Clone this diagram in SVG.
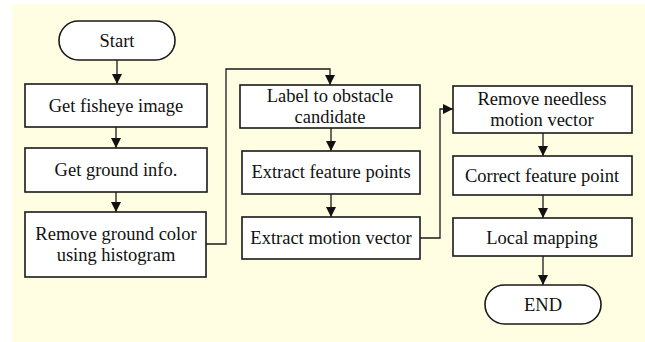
<svg xmlns="http://www.w3.org/2000/svg" width="645" height="342" viewBox="0 0 645 342">
<style>
.n{fill:#fff;stroke:#1a1a1a;stroke-width:1.6}
.t{font-family:'Liberation Serif','DejaVu Serif',serif;font-size:18.5px;fill:#111;text-anchor:middle}
.c{fill:none;stroke:#1a1a1a;stroke-width:1.3}
</style>
<defs>
<marker id="ah" viewBox="0 0 10 10" refX="10" refY="5" markerWidth="10" markerHeight="10" markerUnits="userSpaceOnUse" orient="auto">
<path d="M0,0 L10,5 L0,10 z" fill="#111"/>
</marker>
</defs>
<rect x="12" y="4" width="633" height="338" fill="#FFFEE3"/>
<g id="connectors">
<path class="c" d="M117,60 V84" marker-end="url(#ah)"/>
<path class="c" d="M116,127 V148" marker-end="url(#ah)"/>
<path class="c" d="M116,192 V212" marker-end="url(#ah)"/>
<path class="c" d="M206,244 H226 V69 H330 V85" marker-end="url(#ah)"/>
<path class="c" d="M331,128 V151" marker-end="url(#ah)"/>
<path class="c" d="M331,194 V217" marker-end="url(#ah)"/>
<path class="c" d="M420,238 H440 V109 H453" marker-end="url(#ah)"/>
<path class="c" d="M543,133 V156" marker-end="url(#ah)"/>
<path class="c" d="M543,195 V218" marker-end="url(#ah)"/>
<path class="c" d="M543,256 V285" marker-end="url(#ah)"/>
</g>
<g id="start"><rect class="n" x="59" y="21" width="116" height="39" rx="19.5"/><text class="t" x="117" y="47">Start</text></g>
<g id="get-fisheye"><rect class="n" x="25" y="84" width="182" height="43"/><text class="t" x="116" y="112">Get fisheye image</text></g>
<g id="get-ground"><rect class="n" x="25" y="148" width="182" height="44"/><text class="t" x="116" y="176">Get ground info.</text></g>
<g id="remove-ground"><rect class="n" x="25" y="212" width="181" height="65"/><text class="t" x="116" y="240">Remove ground color</text><text class="t" x="116" y="261">using histogram</text></g>
<g id="label-obstacle"><rect class="n" x="240" y="85" width="180" height="43"/><text class="t" x="330" y="102">Label to obstacle</text><text class="t" x="330" y="123">candidate</text></g>
<g id="extract-feature"><rect class="n" x="242" y="151" width="178" height="43"/><text class="t" x="331" y="178">Extract feature points</text></g>
<g id="extract-motion"><rect class="n" x="242" y="217" width="178" height="42"/><text class="t" x="331" y="244">Extract motion vector</text></g>
<g id="remove-needless"><rect class="n" x="453" y="86" width="179" height="47"/><text class="t" x="542" y="105">Remove needless</text><text class="t" x="542" y="126">motion vector</text></g>
<g id="correct-feature"><rect class="n" x="453" y="156" width="179" height="39"/><text class="t" x="542" y="182">Correct feature point</text></g>
<g id="local-mapping"><rect class="n" x="453" y="218" width="179" height="38"/><text class="t" x="542" y="244">Local mapping</text></g>
<g id="end"><rect class="n" x="485" y="285" width="116" height="39" rx="19.5"/><text class="t" x="543" y="311">END</text></g>
</svg>
